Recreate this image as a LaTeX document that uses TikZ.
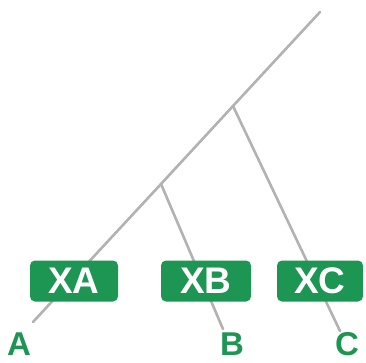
\documentclass[tikz,border=0pt]{standalone}
\usepackage{fontspec}
\setmainfont{Liberation Sans}
\definecolor{leafgreen}{RGB}{28,150,82}
\definecolor{branchgray}{RGB}{178,178,178}
\begin{document}
\begin{tikzpicture}[x=1pt,y=-1pt,
  branch/.style={draw=branchgray,line width=2.6pt,line cap=round},
  tagbox/.style={fill=leafgreen,rounded corners=5pt,minimum height=41pt,inner sep=0pt,
    text=white,font=\bfseries\fontsize{37}{37}\selectfont},
  leaflabel/.style={anchor=base,inner sep=0pt,text=leafgreen,font=\bfseries\fontsize{33}{33}\selectfont}]
\useasboundingbox (0,0) rectangle (366,362);
\coordinate (top) at (320,12);
\coordinate (j1) at (233,106);
\coordinate (j2) at (161,184);
\coordinate (ea) at (33,322);
\coordinate (eb) at (223,329);
\coordinate (ec) at (340,331);
\draw[branch] (top) -- (j1) -- (j2) -- (ea);
\draw[branch] (j1) -- (ec);
\draw[branch] (j2) -- (eb);
\node[tagbox,minimum width=88pt] (xa) at (74,281) {XA};
\node[tagbox,minimum width=90pt] (xb) at (206,281) {XB};
\node[tagbox,minimum width=86pt] (xc) at (320,281) {XC};
\node[leaflabel] (la) at (19,355) {A};
\node[leaflabel] (lb) at (232,355) {B};
\node[leaflabel] (lc) at (347,355) {C};
\end{tikzpicture}
\end{document}
